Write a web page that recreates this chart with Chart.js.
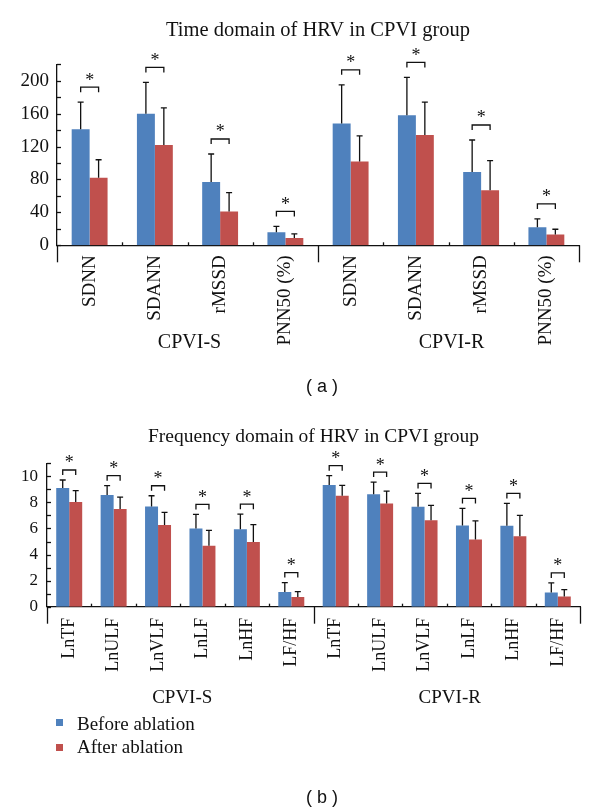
<!DOCTYPE html>
<html>
<head>
<meta charset="utf-8">
<script src="https://cdn.jsdelivr.net/npm/chart.js@4"></script>
<style>
  body { margin: 0; background: #fff; }
  #page { position: relative; width: 600px; height: 811px; overflow: hidden; font-family: "Liberation Serif", serif; color: #111; }
  canvas { position: absolute; left: 0; }
  .tag { position: absolute; width: 100px; text-align: center; font-family: "Liberation Sans", sans-serif; font-size: 18px; line-height: 20px; }
  .key { position: absolute; left: 77px; font-size: 19px; line-height: 20px; white-space: nowrap; }
  .swatch { position: absolute; left: 56px; width: 7px; height: 7px; }
</style>
</head>
<body>
<div id="page">
  <canvas id="timeChart" width="600" height="400" style="top:0"></canvas>
  <canvas id="freqChart" width="600" height="411" style="top:400px"></canvas>
  <div class="tag" style="left:272px; top:376px">( a )</div>
  <div class="swatch" style="top:719px; background:#4F81BD"></div>
  <div class="key" style="top:714px">Before ablation</div>
  <div class="swatch" style="top:744px; background:#C0504D"></div>
  <div class="key" style="top:737px">After ablation</div>
  <div class="tag" style="left:272px; top:787px">( b )</div>
</div>
<script>
  // Time domain values (mean and SD)
  const timeLabels = ['SDNN', 'SDANN', 'rMSSD', 'PNN50 (%)', 'SDNN', 'SDANN', 'rMSSD', 'PNN50 (%)'];
  const timeBefore = [141, 160, 77, 16, 148, 158, 89, 22];
  const timeBeforeSD = [33, 38, 34, 7, 47, 46, 39, 10];
  const timeAfter = [82, 122, 41, 9, 102, 134, 67, 13];
  const timeAfterSD = [22, 45, 23, 5, 31, 40, 36, 6.5];

  // Frequency domain values
  const freqLabels = ['LnTF', 'LnULF', 'LnVLF', 'LnLF', 'LnHF', 'LF/HF', 'LnTF', 'LnULF', 'LnVLF', 'LnLF', 'LnHF', 'LF/HF'];
  const freqBefore = [9.1, 8.56, 7.69, 6.0, 5.95, 1.13, 9.33, 8.62, 7.67, 6.23, 6.2, 1.08];
  const freqBeforeSD = [0.62, 0.72, 0.82, 1.08, 1.15, 0.72, 0.72, 0.94, 1.02, 1.31, 1.72, 0.74];
  const freqAfter = [8.03, 7.49, 6.26, 4.67, 4.97, 0.74, 8.51, 7.92, 6.64, 5.15, 5.41, 0.79];
  const freqAfterSD = [0.87, 0.92, 0.97, 1.18, 1.33, 0.41, 0.8, 0.95, 1.13, 1.44, 1.59, 0.52];

  const groupNames = ['CPVI-S', 'CPVI-R'];
  const seriesNames = ['Before ablation', 'After ablation'];

  const serif = '"Liberation Serif", "Times New Roman", serif';
  const ink = '#111';

  // Error bars, significance brackets, inward ticks and group names
  const hrvMarks = {
    id: 'hrvMarks',
    afterDraw(chart, args, opts) {
      const ctx = chart.ctx;
      const xs = chart.scales.x;
      const ys = chart.scales.y;
      const area = chart.chartArea;
      const n = chart.data.labels.length;
      const tops = [[], []];

      ctx.save();
      ctx.strokeStyle = ink;
      ctx.fillStyle = ink;
      ctx.lineWidth = 1.3;

      // error bars (upward only)
      chart.data.datasets.forEach((ds, d) => {
        chart.getDatasetMeta(d).data.forEach((bar, i) => {
          const top = ys.getPixelForValue(ds.data[i] + ds.sd[i]);
          tops[d][i] = top;
          ctx.beginPath();
          ctx.moveTo(bar.x, bar.y);
          ctx.lineTo(bar.x, top);
          ctx.moveTo(bar.x - 3, top);
          ctx.lineTo(bar.x + 3, top);
          ctx.stroke();
        });
      });

      // brackets with stars
      ctx.font = '18px ' + serif;
      ctx.textAlign = 'center';
      ctx.textBaseline = 'alphabetic';
      const b0 = chart.getDatasetMeta(0).data;
      const b1 = chart.getDatasetMeta(1).data;
      for (let i = 0; i < n; i++) {
        const by = Math.min(tops[0][i], tops[1][i]) - opts.gap;
        ctx.beginPath();
        ctx.moveTo(b0[i].x, by + 5);
        ctx.lineTo(b0[i].x, by);
        ctx.lineTo(b1[i].x, by);
        ctx.lineTo(b1[i].x, by + 5);
        ctx.stroke();
        ctx.fillText('*', (b0[i].x + b1[i].x) / 2, by - 1.5);
      }

      // minor y ticks pointing into the plot
      for (let v = ys.min; v <= ys.max; v += opts.minorStep) {
        const py = Math.round(ys.getPixelForValue(v)) + 0.5;
        ctx.beginPath();
        ctx.moveTo(area.left, py);
        ctx.lineTo(area.left + 4, py);
        ctx.stroke();
      }

      // x ticks at category edges: short inward, long at ends and group divider
      for (let i = 0; i <= n; i++) {
        let px;
        if (i === 0) px = area.left;
        else if (i === n) px = area.right;
        else px = (xs.getPixelForValue(i - 1) + xs.getPixelForValue(i)) / 2;
        px = Math.round(px) + 0.5;
        ctx.beginPath();
        if (i === 0 || i === n || i === n / 2) {
          ctx.moveTo(px, area.bottom);
          ctx.lineTo(px, area.bottom + 17);
        } else {
          ctx.moveTo(px, area.bottom);
          ctx.lineTo(px, area.bottom - 3);
        }
        ctx.stroke();
      }

      // group names under each half
      ctx.font = opts.groupFont + 'px ' + serif;
      ctx.textBaseline = 'middle';
      const mid = (xs.getPixelForValue(n / 2 - 1) + xs.getPixelForValue(n / 2)) / 2;
      ctx.fillText(groupNames[0], (area.left + mid) / 2 + 2, opts.groupY);
      ctx.fillText(groupNames[1], (mid + area.right) / 2 + 3, opts.groupY);
      ctx.restore();
    }
  };

  function makeChart(id, cfg) {
    return new Chart(document.getElementById(id), {
      type: 'bar',
      data: {
        labels: cfg.labels,
        datasets: [
          { label: seriesNames[0], data: cfg.before, sd: cfg.beforeSD, backgroundColor: '#4F81BD',
            borderWidth: 0, categoryPercentage: cfg.catPct, barPercentage: 1 },
          { label: seriesNames[1], data: cfg.after, sd: cfg.afterSD, backgroundColor: '#C0504D',
            borderWidth: 0, categoryPercentage: cfg.catPct, barPercentage: 1 }
        ]
      },
      plugins: [hrvMarks],
      options: {
        responsive: false,
        animation: false,
        layout: { padding: { left: 0, right: cfg.right, top: 0, bottom: 0 } },
        plugins: {
          legend: { display: false },
          tooltip: { enabled: false },
          title: {
            display: true,
            fullSize: false,
            text: cfg.title,
            color: ink,
            font: { family: serif, size: cfg.titleSize, weight: 'normal' },
            padding: cfg.titlePad
          },
          hrvMarks: { gap: cfg.gap, groupY: cfg.groupY, groupFont: cfg.groupFont, minorStep: cfg.yMinor }
        },
        scales: {
          x: {
            offset: true,
            grid: { display: false, drawTicks: false },
            border: { display: true, color: ink, width: 1.3 },
            ticks: { autoSkip: false, minRotation: 90, maxRotation: 90, padding: cfg.xPad,
                     color: ink, font: { family: serif, size: cfg.xFont } },
            afterFit: s => { s.height = cfg.xHeight; }
          },
          y: {
            min: 0,
            max: cfg.yMax,
            grid: { display: false, drawTicks: false },
            border: { display: true, color: ink, width: 1.3 },
            ticks: { stepSize: cfg.yStep, includeBounds: false, padding: cfg.yPad, color: ink,
                     font: { family: serif, size: cfg.yFont },
                     callback: v => (v % cfg.yStep === 0 ? v : '') },
            afterFit: s => { s.width = cfg.left; }
          }
        }
      }
    });
  }

  makeChart('timeChart', {
    labels: timeLabels, before: timeBefore, beforeSD: timeBeforeSD, after: timeAfter, afterSD: timeAfterSD,
    title: 'Time domain of HRV in CPVI group', titleSize: 20.5, titlePad: { top: 18, bottom: 21.7 },
    left: 57, right: 21, xHeight: 154.7, xPad: 10, yMax: 220, yStep: 40, yMinor: 20, yPad: 8,
    xFont: 19, yFont: 19, catPct: 0.55, gap: 15, groupY: 343, groupFont: 20
  });

  makeChart('freqChart', {
    labels: freqLabels, before: freqBefore, beforeSD: freqBeforeSD, after: freqAfter, afterSD: freqAfterSD,
    title: 'Frequency domain of HRV in CPVI group', titleSize: 19.5, titlePad: { top: 25.6, bottom: 14.3 },
    left: 47, right: 20, xHeight: 204.3, xPad: 11, yMax: 11, yStep: 2, yMinor: 1, yPad: 9,
    xFont: 18, yFont: 17, catPct: 0.585, gap: 10, groupY: 298, groupFont: 19
  });
</script>
</body>
</html>
